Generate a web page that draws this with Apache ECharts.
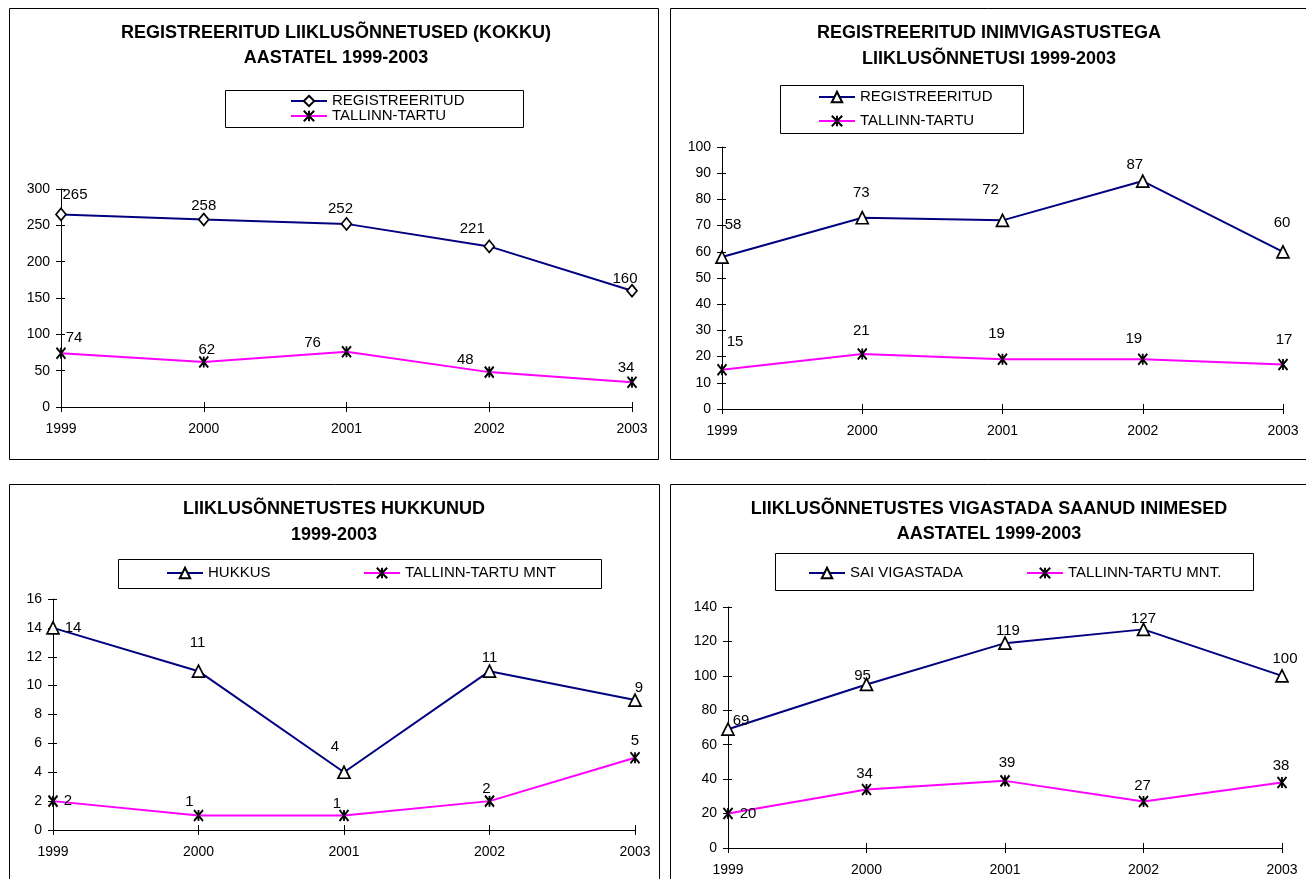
<!DOCTYPE html>
<html>
<head>
<meta charset="utf-8">
<script src="https://cdn.jsdelivr.net/npm/echarts@6/dist/echarts.min.js"></script>
<style>
html,body{margin:0;padding:0;background:#fff;}
#chart{width:1306px;height:879px;}
</style>
</head>
<body>
<div id="chart"></div>
<script>
// ---------- data ----------
const years = ['1999', '2000', '2001', '2002', '2003'];

const regTotal   = [265, 258, 252, 221, 160];
const ttTotal    = [74, 62, 76, 48, 34];
const regInjury  = [58, 73, 72, 87, 60];
const ttInjury   = [15, 21, 19, 19, 17];
const killed     = [14, 11, 4, 11, 9];
const ttKilled   = [2, 1, 1, 2, 5];
const injured    = [69, 95, 119, 127, 100];
const ttInjured  = [20, 34, 39, 27, 38];

const titles = [
  ['REGISTREERITUD LIIKLUSÕNNETUSED (KOKKU)', 'AASTATEL 1999-2003'],
  ['REGISTREERITUD INIMVIGASTUSTEGA', 'LIIKLUSÕNNETUSI 1999-2003'],
  ['LIIKLUSÕNNETUSTES HUKKUNUD', '1999-2003'],
  ['LIIKLUSÕNNETUSTES VIGASTADA SAANUD INIMESED', 'AASTATEL 1999-2003']
];
const seriesNames = {
  s1a: 'REGISTREERITUD', s1b: 'TALLINN-TARTU',
  s2a: 'REGISTREERITUD', s2b: 'TALLINN-TARTU',
  s3a: 'HUKKUS', s3b: 'TALLINN-TARTU MNT',
  s4a: 'SAI VIGASTADA', s4b: 'TALLINN-TARTU MNT.'
};
const yMax = [300, 100, 16, 140];
const yInterval = [50, 10, 2, 20];

// ---------- layout / style ----------
const FONT = '"Liberation Sans", Arial, sans-serif';
const grids = [
  {left: 61, top: 189, width: 571, height: 218},
  {left: 722, top: 147, width: 561, height: 262},
  {left: 53, top: 599, width: 582, height: 231},
  {left: 728, top: 607, width: 554, height: 241}
];
const titleCenters = [[336, 33, 58], [989, 33, 59], [334, 509, 535], [989, 509, 534]];
const panelRects = [
  [9, 8, 649, 451], [670, 8, 640, 451], [9, 484, 650, 400], [670, 484, 640, 400]
];
const legendRects = [
  [225, 90, 298, 37], [780, 85, 243, 48], [118, 559, 483, 29], [775, 553, 478, 37]
];
const legendPos = {
  s1a: [290, 101], s1b: [290, 116],
  s2a: [818, 97],  s2b: [818, 121],
  s3a: [166, 573], s3b: [363, 573],
  s4a: [808, 573], s4b: [1026, 573]
};
const labelOffsets = {
  s1a: [[14, -20], [0, -14], [-6, -15], [-17, -18], [-7, -12]],
  s1b: [[13, -15], [3, -12], [-34, -9], [-24, -12], [-6, -14]],
  s2a: [[11, -32], [-1, -25], [-12, -31], [-8, -16], [-1, -29]],
  s2b: [[13, -28], [-1, -23], [-6, -25], [-9, -20], [1, -25]],
  s3a: [[20, 0], [-1, -28], [-9, -25], [0, -13], [4, -12]],
  s3b: [[15, 0], [-9, -14], [-7, -12], [-3, -12], [0, -17]],
  s4a: [[13, -8], [-4, -9], [3, -12], [0, -11], [3, -17]],
  s4b: [[20, 0], [-2, -16], [2, -18], [-1, -16], [-1, -17]]
};
const NAVY = '#000080';
const MAGENTA = '#FF00FF';
const STAR = 'path://M0,0L10,12M10,0L0,12M5,0L5,12';

function makeSeries(id, values, gi, kind) {
  const isNavy = kind !== 'star';
  const offs = labelOffsets[id];
  return {
    type: 'line',
    name: id,
    xAxisIndex: gi * 2,
    yAxisIndex: gi * 2,
    data: values.map((v, j) => ({value: v, label: {offset: offs[j]}})),
    symbol: kind === 'diamond' ? 'diamond' : (kind === 'triangle' ? 'triangle' : STAR),
    symbolSize: kind === 'diamond' ? [10, 12] : (kind === 'triangle' ? [12, 12] : [9, 11]),
    showAllSymbol: true,
    lineStyle: {color: isNavy ? NAVY : MAGENTA, width: 2},
    itemStyle: isNavy
      ? {color: '#fff', borderColor: '#000', borderWidth: 1.7}
      : {color: '#000', borderColor: '#000', borderWidth: 2},
    label: {show: true, position: 'inside', color: '#000', fontSize: 15, fontFamily: FONT},
    emphasis: {disabled: true},
    z: isNavy ? 3 : 4
  };
}

const xAxes = [], yAxes = [];
grids.forEach((g, i) => {
  const base = {type: 'category', gridIndex: i, data: years, boundaryGap: false, splitLine: {show: false}};
  xAxes.push(Object.assign({}, base, {
    position: 'bottom',
    axisLine: {show: true, lineStyle: {color: '#000', width: 1}},
    axisTick: {show: true, length: 5, lineStyle: {color: '#000'}},
    axisLabel: {color: '#000', fontSize: 14, margin: 15, fontFamily: FONT}
  }));
  xAxes.push(Object.assign({}, base, {
    position: 'bottom',
    axisLine: {show: false},
    axisTick: {show: true, inside: true, length: 5, lineStyle: {color: '#000'}},
    axisLabel: {show: false}
  }));
  const ybase = {type: 'value', gridIndex: i, min: 0, max: yMax[i], interval: yInterval[i], splitLine: {show: false}, position: 'left'};
  yAxes.push(Object.assign({}, ybase, {
    axisLine: {show: true, lineStyle: {color: '#000', width: 1}},
    axisTick: {show: true, length: 5, lineStyle: {color: '#000'}},
    axisLabel: {color: '#000', fontSize: 14, margin: 11, fontFamily: FONT}
  }));
  yAxes.push(Object.assign({}, ybase, {
    axisLine: {show: false},
    axisTick: {show: true, inside: true, length: 4, lineStyle: {color: '#000'}},
    axisLabel: {show: false}
  }));
});

const series = [
  makeSeries('s1a', regTotal, 0, 'diamond'),
  makeSeries('s1b', ttTotal, 0, 'star'),
  makeSeries('s2a', regInjury, 1, 'triangle'),
  makeSeries('s2b', ttInjury, 1, 'star'),
  makeSeries('s3a', killed, 2, 'triangle'),
  makeSeries('s3b', ttKilled, 2, 'star'),
  makeSeries('s4a', injured, 3, 'triangle'),
  makeSeries('s4b', ttInjured, 3, 'star')
];

const legends = Object.keys(legendPos).map(id => ({
  data: [id],
  left: legendPos[id][0],
  top: legendPos[id][1] - 8,
  padding: 0,
  itemWidth: 36,
  itemHeight: 13,
  selectedMode: false,
  formatter: n => seriesNames[n],
  textStyle: {color: '#000', fontSize: 15, fontFamily: FONT, lineHeight: 16}
}));

const graphics = [];
panelRects.forEach(r => graphics.push({
  type: 'rect', silent: true,
  shape: {x: r[0] + 0.5, y: r[1] + 0.5, width: r[2], height: r[3]},
  style: {fill: 'none', stroke: '#000', lineWidth: 1}
}));
legendRects.forEach(r => graphics.push({
  type: 'rect', silent: true,
  shape: {x: r[0] + 0.5, y: r[1] + 0.5, width: r[2], height: r[3]},
  style: {fill: 'none', stroke: '#000', lineWidth: 1}
}));
titles.forEach((t, i) => {
  const c = titleCenters[i];
  [0, 1].forEach(k => graphics.push({
    type: 'text', silent: true,
    x: c[0], y: c[k + 1],
    style: {text: t[k], align: 'center', verticalAlign: 'middle', fill: '#000',
            fontSize: 18, fontWeight: 'bold', fontFamily: FONT}
  }));
});

const chart = echarts.init(document.getElementById('chart'), null, {renderer: 'canvas'});
chart.setOption({
  animation: false,
  backgroundColor: '#fff',
  textStyle: {fontFamily: FONT},
  grid: grids,
  xAxis: xAxes,
  yAxis: yAxes,
  legend: legends,
  series: series,
  graphic: graphics
});
</script>
</body>
</html>
